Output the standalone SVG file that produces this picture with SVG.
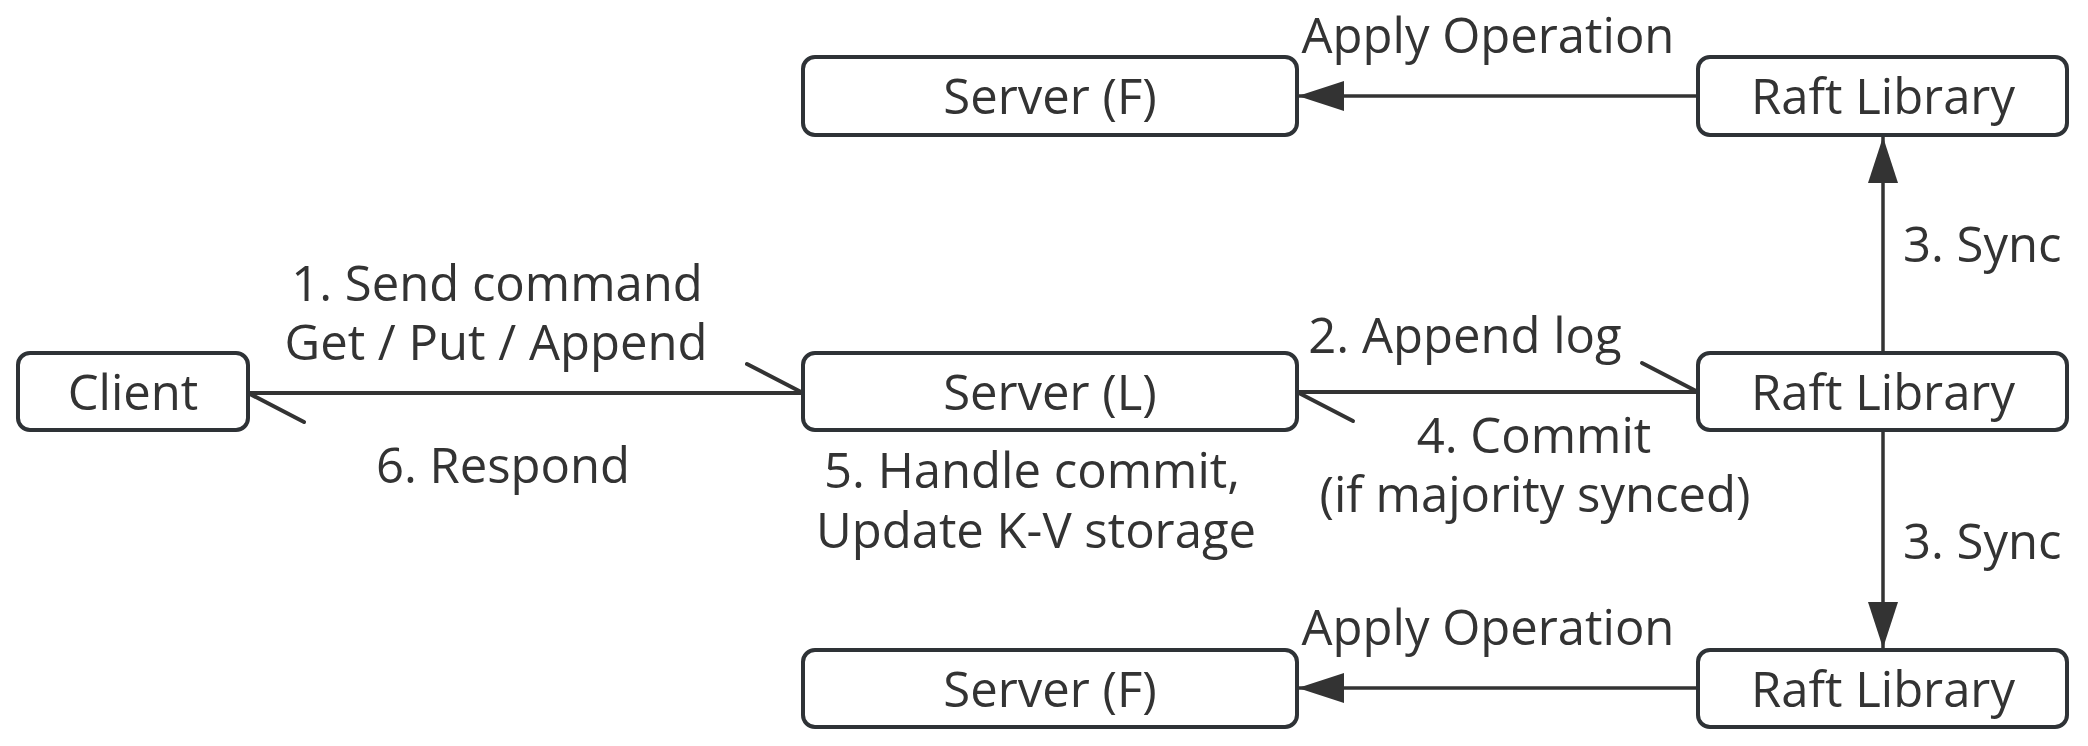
<svg xmlns="http://www.w3.org/2000/svg" width="2088" height="746" viewBox="0 0 2088 746">
  <style>
    .box { fill: #ffffff; stroke: #2e3236; stroke-width: 4; }
    .lbl { font-family: "Open Sans", "Noto Sans", "Liberation Sans", sans-serif; font-size: 49px; fill: #333333; text-anchor: middle; }
    .start { text-anchor: start; }
    .edge { fill: none; stroke: #333333; stroke-width: 4; }
    .arr { fill: none; stroke: #333333; stroke-width: 3.5; }
  </style>
  <defs>
    <marker id="tri" markerUnits="userSpaceOnUse" markerWidth="50" markerHeight="34" refX="46" refY="15" orient="auto" overflow="visible">
      <path d="M0,0 L46,15 L0,30 Z" fill="#333333"/>
    </marker>
    <marker id="half" markerUnits="userSpaceOnUse" markerWidth="60" markerHeight="34" refX="0" refY="0" orient="auto" overflow="visible">
      <path d="M-56,-29 L0,0" fill="none" stroke="#333333" stroke-width="4" stroke-linecap="round"/>
    </marker>
  </defs>
  <rect width="2088" height="746" fill="#ffffff"/>

  <g id="connectors">
    <path class="edge" d="M248,393 L803,393" marker-end="url(#half)"/>
    <path class="edge" d="M803,393 L248,393" marker-end="url(#half)"/>
    <path class="edge" d="M1297,392 L1698,392" marker-end="url(#half)"/>
    <path class="edge" d="M1698,392 L1297,392" marker-end="url(#half)"/>
    <path class="arr" d="M1698,96 L1298,96" marker-end="url(#tri)"/>
    <path class="arr" d="M1698,688 L1298,688" marker-end="url(#tri)"/>
    <path class="arr" d="M1883,353 L1883,137" marker-end="url(#tri)"/>
    <path class="arr" d="M1883,430 L1883,648" marker-end="url(#tri)"/>
    <text class="lbl" x="497" y="301">1. Send command<tspan x="496" dy="59">Get / Put / Append</tspan></text>
    <text class="lbl" x="503" y="483">6. Respond</text>
    <text class="lbl" x="1032" y="488">5. Handle commit,<tspan x="1036" dy="60">Update K-V storage</tspan></text>
    <text class="lbl" x="1465" y="353">2. Append log</text>
    <text class="lbl" x="1534" y="453">4. Commit<tspan x="1535" dy="59">(if majority synced)</tspan></text>
    <text class="lbl start" x="1903" y="262">3. Sync</text>
    <text class="lbl start" x="1903" y="559">3. Sync</text>
    <text class="lbl" x="1488" y="53">Apply Operation</text>
    <text class="lbl" x="1488" y="645">Apply Operation</text>
  </g>

  <g id="client">
    <rect class="box" x="18" y="353" width="230" height="77" rx="12"/>
    <text class="lbl" x="133" y="410">Client</text>
  </g>
  <g id="server-l">
    <rect class="box" x="803" y="353" width="494" height="77" rx="12"/>
    <text class="lbl" x="1050" y="410">Server (L)</text>
  </g>
  <g id="raft-mid">
    <rect class="box" x="1698" y="353" width="369" height="77" rx="12"/>
    <text class="lbl" x="1883" y="410">Raft Library</text>
  </g>
  <g id="server-f-top">
    <rect class="box" x="803" y="57" width="494" height="78" rx="12"/>
    <text class="lbl" x="1050" y="114">Server (F)</text>
  </g>
  <g id="raft-top">
    <rect class="box" x="1698" y="57" width="369" height="78" rx="12"/>
    <text class="lbl" x="1883" y="114">Raft Library</text>
  </g>
  <g id="server-f-bottom">
    <rect class="box" x="803" y="650" width="494" height="77" rx="12"/>
    <text class="lbl" x="1050" y="707">Server (F)</text>
  </g>
  <g id="raft-bottom">
    <rect class="box" x="1698" y="650" width="369" height="77" rx="12"/>
    <text class="lbl" x="1883" y="707">Raft Library</text>
  </g>
</svg>
